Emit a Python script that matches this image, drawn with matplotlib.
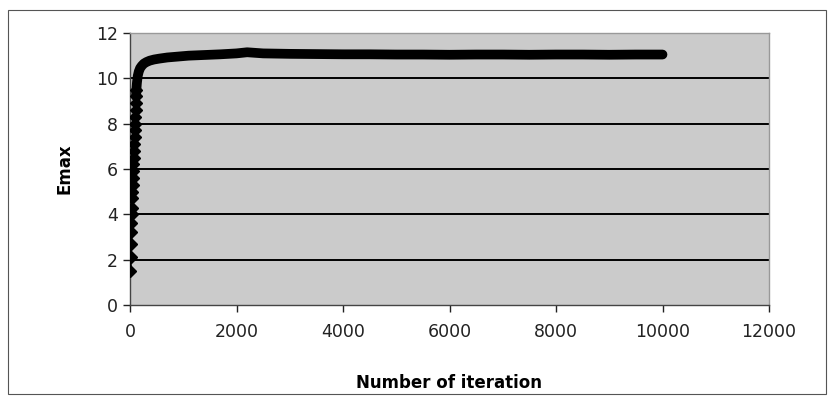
import matplotlib.pyplot as plt
from matplotlib.patches import Rectangle

# iteration number and Emax
iterations = [5, 10, 15, 20, 25, 30, 35, 40, 45, 50, 55, 60, 65, 70, 75, 80,
              85, 90, 95, 100, 105, 110, 115, 120, 130, 145, 165, 190, 220,
              260, 310, 370, 450, 550, 700, 900, 1100, 1400, 1700, 2000,
              2200, 2500, 3000, 3500, 4000, 4500, 5000, 5500, 6000, 6500,
              7000, 7500, 8000, 8500, 9000, 9500, 10000]
emax = [1.5, 2.1, 2.7, 3.2, 3.6, 4.0, 4.3, 4.7, 5.0, 5.3, 5.6, 5.9, 6.2, 6.5,
        6.8, 7.1, 7.4, 7.7, 8.0, 8.3, 8.6, 8.9, 9.2, 9.5, 9.8, 10.1, 10.3,
        10.45, 10.55, 10.65, 10.72, 10.78, 10.83, 10.87, 10.92, 10.96, 11.0,
        11.03, 11.06, 11.1, 11.15, 11.1, 11.08, 11.07, 11.06, 11.06, 11.05,
        11.05, 11.04, 11.05, 11.05, 11.04, 11.05, 11.05, 11.04, 11.05, 11.05]

yticks = [0, 2, 4, 6, 8, 10, 12]
xticks = [0, 2000, 4000, 6000, 8000, 10000, 12000]

fig = plt.figure(figsize=(8.33, 3.96), dpi=100)
ax = fig.add_axes([130 / 833, 1 - 305 / 396, 639 / 833, 272 / 396])

# thin frame round the whole chart
fig.patches.append(Rectangle((8 / 833, 2 / 396), 818 / 833, 384 / 396,
                             transform=fig.transFigure, fill=False,
                             edgecolor='#555555', linewidth=0.8))

ax.set_facecolor('#cbcbcb')
# dense points merge into one thick line, the first ones show as diamonds
n_sep = 24
ax.plot(iterations[n_sep - 2:], emax[n_sep - 2:], color='black', linewidth=7,
        solid_capstyle='round', solid_joinstyle='round', zorder=3)
ax.plot(iterations[:n_sep], emax[:n_sep], color='black', linewidth=2,
        marker='D', markersize=6, zorder=3)

ax.set_xlim(0, 12000)
ax.set_ylim(0, 12)
ax.set_xticks(xticks)
ax.set_yticks(yticks)
for y in yticks[1:-1]:
    ax.axhline(y, color='black', linewidth=1.4, zorder=2)

ax.tick_params(axis='both', direction='out', length=5, width=1,
               labelsize=12.5, colors='#222222')
ax.tick_params(axis='x', pad=8)
for s in ax.spines.values():
    s.set_color('#444444')
    s.set_linewidth(1)
ax.spines['top'].set_color('#999999')
ax.spines['right'].set_color('#999999')

ax.set_xlabel('Number of iteration', fontsize=12, fontweight='bold', labelpad=24)
ax.set_ylabel('Emax', fontsize=12, fontweight='bold', labelpad=16)

fig.savefig('out.png', dpi=100)
